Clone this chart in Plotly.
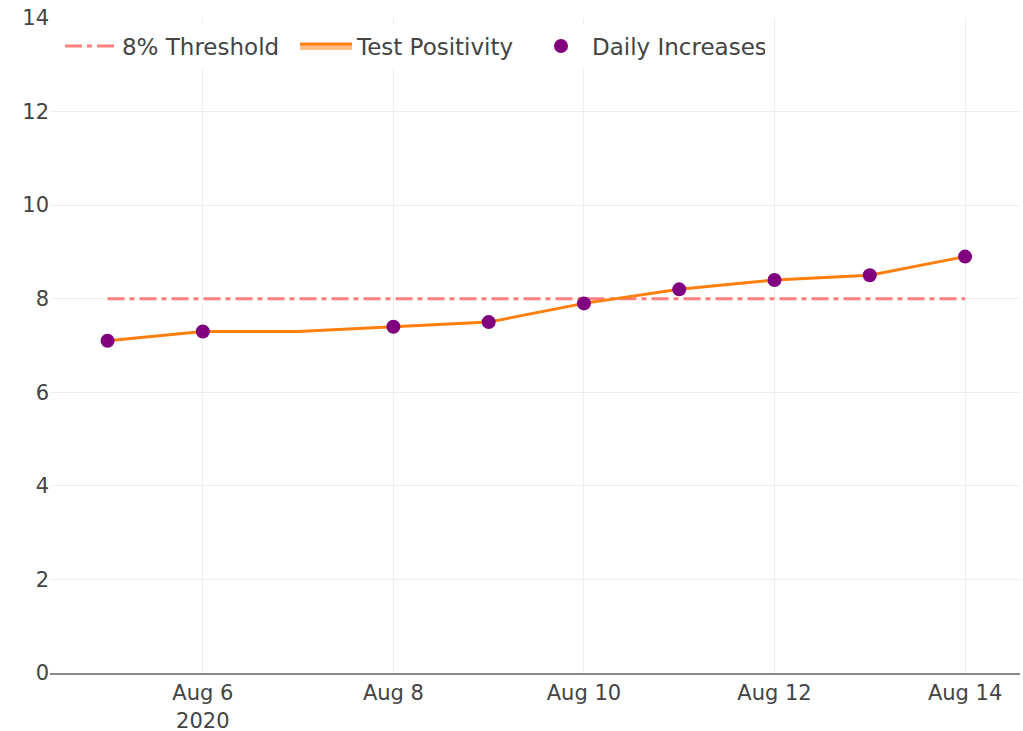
import plotly.graph_objects as go

dates = ["2020-08-05", "2020-08-06", "2020-08-07", "2020-08-08", "2020-08-09",
         "2020-08-10", "2020-08-11", "2020-08-12", "2020-08-13", "2020-08-14"]
positivity = [7.1, 7.3, 7.3, 7.4, 7.5, 7.9, 8.2, 8.4, 8.5, 8.9]
threshold = [8] * len(dates)
inc_dates = ["2020-08-05", "2020-08-06", "2020-08-08", "2020-08-09",
             "2020-08-10", "2020-08-11", "2020-08-12", "2020-08-13", "2020-08-14"]
inc_values = [7.1, 7.3, 7.4, 7.5, 7.9, 8.2, 8.4, 8.5, 8.9]

FONT = "DejaVu Sans"
fig = go.Figure()
fig.add_trace(go.Scatter(x=dates, y=threshold, mode="lines", name="8% Threshold",
                         line=dict(color="#ff7f7f", width=3, dash="17px,5px,5px,5px")))
fig.add_trace(go.Scatter(x=dates, y=positivity, mode="lines", showlegend=False,
                         line=dict(width=0), hoverinfo="skip"))
fig.add_trace(go.Scatter(x=dates, y=positivity, mode="lines", name="Test Positivity",
                         fill="tonexty", fillcolor="rgba(255,127,14,0.5)",
                         line=dict(color="#ff7f0e", width=3)))
fig.add_trace(go.Scatter(x=inc_dates, y=inc_values, mode="markers", name="Daily Increases",
                         marker=dict(color="#800080", size=14)))

fig.update_layout(
    width=1023, height=731,
    margin=dict(l=50, r=3, t=18, b=58),
    paper_bgcolor="white", plot_bgcolor="white",
    font=dict(family=FONT, size=21, color="#444"),
    legend=dict(orientation="h", x=0.0103, y=0.99, xanchor="left", yanchor="top",
                bgcolor="white", font=dict(size=23), itemwidth=52,
                entrywidth=168, entrywidthmode="pixels",
                traceorder="normal"),
    xaxis=dict(range=["2020-08-04 09:30", "2020-08-14 13:50"], showgrid=True,
               gridcolor="#eeeeee", showline=True, linecolor="#888", linewidth=2,
               dtick=2 * 86400000, tick0="2020-08-06", automargin=False,
               ticks="", ticklen=0, zeroline=False, ticklabeloverflow="allow"),
    yaxis=dict(range=[0, 14], dtick=2, showgrid=True, gridcolor="#eeeeee", automargin=False,
               zeroline=False, showline=False, ticks="", ticklabeloverflow="allow"),
)
fig.write_html("out.html", config={"displayModeBar": False},
               post_script="document.body.style.margin='0';document.body.style.overflow='hidden';")
